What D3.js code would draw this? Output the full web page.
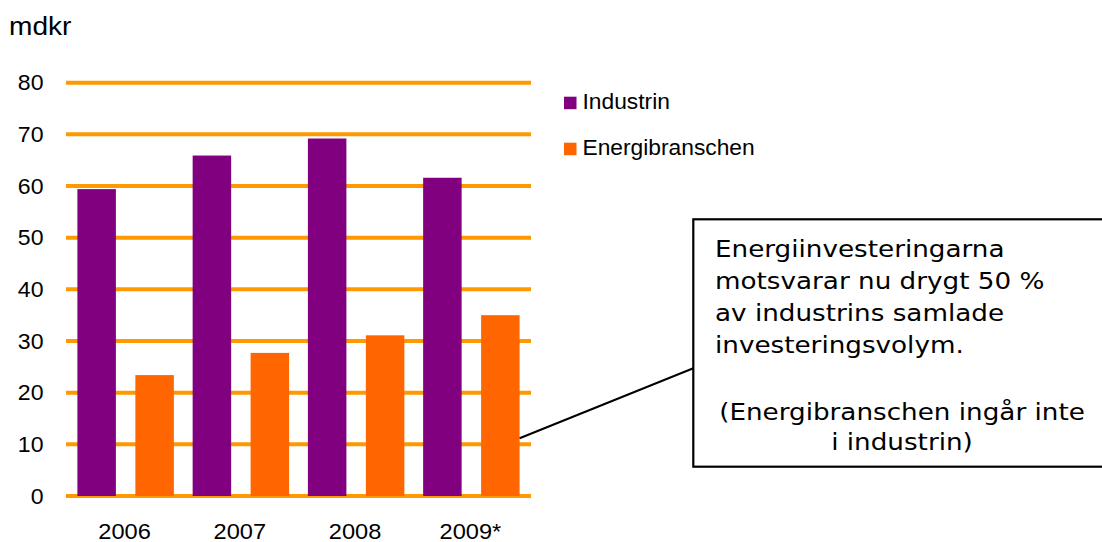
<!DOCTYPE html>
<html>
<head>
<meta charset="utf-8">
<script src="https://cdn.jsdelivr.net/npm/d3@7"></script>
<style>
  html, body { margin: 0; padding: 0; background: #fff; }
  svg { display: block; }
</style>
</head>
<body>
<svg id="chart" width="1102" height="542"></svg>
<script>
const categories = ["2006", "2007", "2008", "2009*"];
const seriesNames = ["Industrin", "Energibranschen"];
const industrin = [59.4, 65.9, 69.2, 61.6];
const energibranschen = [23.4, 27.7, 31.1, 35.0];
const yTicks = [0, 10, 20, 30, 40, 50, 60, 70, 80];
const colors = ["#800080", "#FF6600"];
const unitLabel = "mdkr";
const calloutLines = [
  "Energiinvesteringarna",
  "motsvarar nu drygt 50 %",
  "av industrins samlade",
  "investeringsvolym."
];
const calloutNote = ["(Energibranschen ingår inte", "i industrin)"];

const svg = d3.select("#chart");
const values = [industrin, energibranschen];

const y = d3.scaleLinear().domain([0, 80]).range([496, 82.7]);
const x = d3.scaleBand().domain(categories).range([68, 529]).padding(0);
const xs = d3.scaleBand().domain(seriesNames).range([0, x.bandwidth()])
  .paddingInner(0.336).paddingOuter(0.162);

const gridX0 = 66, gridX1 = 531;

// gridlines
svg.append("g").selectAll("line").data(yTicks).join("line")
  .attr("x1", gridX0).attr("x2", gridX1)
  .attr("y1", d => y(d)).attr("y2", d => y(d))
  .attr("stroke", "#FF9900").attr("stroke-width", 4);

// y tick labels
svg.append("g").selectAll("text").data(yTicks).join("text")
  .attr("transform", d => `translate(43.5,${y(d) + 7.5}) scale(1.05,1)`)
  .attr("text-anchor", "end")
  .attr("font-family", "Liberation Sans, Arial, sans-serif")
  .attr("font-size", 22)
  .attr("fill", "#000")
  .text(d => d);

// bars
seriesNames.forEach((s, si) => {
  svg.append("g").selectAll("rect").data(categories).join("rect")
    .attr("x", (c) => x(c) + xs(s))
    .attr("width", xs.bandwidth())
    .attr("y", (c, i) => y(values[si][i]))
    .attr("height", (c, i) => y(0) - y(values[si][i]))
    .attr("fill", colors[si]);
});

// x labels
svg.append("g").selectAll("text").data(categories).join("text")
  .attr("transform", c => `translate(${x(c) + x.bandwidth() / 2 - 1},538.5) scale(1.05,1)`)
  .attr("text-anchor", "middle")
  .attr("font-family", "Liberation Sans, Arial, sans-serif")
  .attr("font-size", 22.5)
  .attr("fill", "#000")
  .text(c => c);

// unit label
svg.append("text")
  .attr("transform", "translate(9,35) scale(1.08,1)")
  .attr("font-family", "Liberation Sans, Arial, sans-serif")
  .attr("font-size", 26)
  .attr("fill", "#000")
  .text(unitLabel);

// legend
const legend = svg.append("g");
seriesNames.forEach((s, i) => {
  const ly = 96.7 + i * 46;
  legend.append("rect")
    .attr("x", 564).attr("y", ly).attr("width", 12.5).attr("height", 12.5)
    .attr("fill", colors[i]);
  legend.append("text")
    .attr("transform", `translate(582.5,${ly + 12.5}) scale(1.06,1)`)
    .attr("font-family", "Liberation Sans, Arial, sans-serif")
    .attr("font-size", 21.5)
    .attr("fill", "#000")
    .text(s);
});

// callout connector
svg.append("line")
  .attr("x1", x("2009*") + xs("Energibranschen") + xs.bandwidth()).attr("y1", 438.3)
  .attr("x2", 693.3).attr("y2", 368.3)
  .attr("stroke", "#000").attr("stroke-width", 2);

// callout box
svg.append("rect")
  .attr("x", 693.3).attr("y", 219.3).attr("width", 420).attr("height", 247.4)
  .attr("fill", "#fff").attr("stroke", "#000").attr("stroke-width", 2.2);

const ct = svg.append("g")
  .attr("font-family", "DejaVu Sans, Verdana, sans-serif")
  .attr("font-size", 23)
  .attr("fill", "#000");
calloutLines.forEach((t, i) => {
  ct.append("text")
    .attr("transform", `translate(715,${256.7 + i * 32}) scale(1.14,1)`)
    .text(t);
});
calloutNote.forEach((t, i) => {
  ct.append("text")
    .attr("transform", `translate(902,${420 + i * 30}) scale(1.14,1)`)
    .attr("text-anchor", "middle")
    .text(t);
});
</script>
</body>
</html>
